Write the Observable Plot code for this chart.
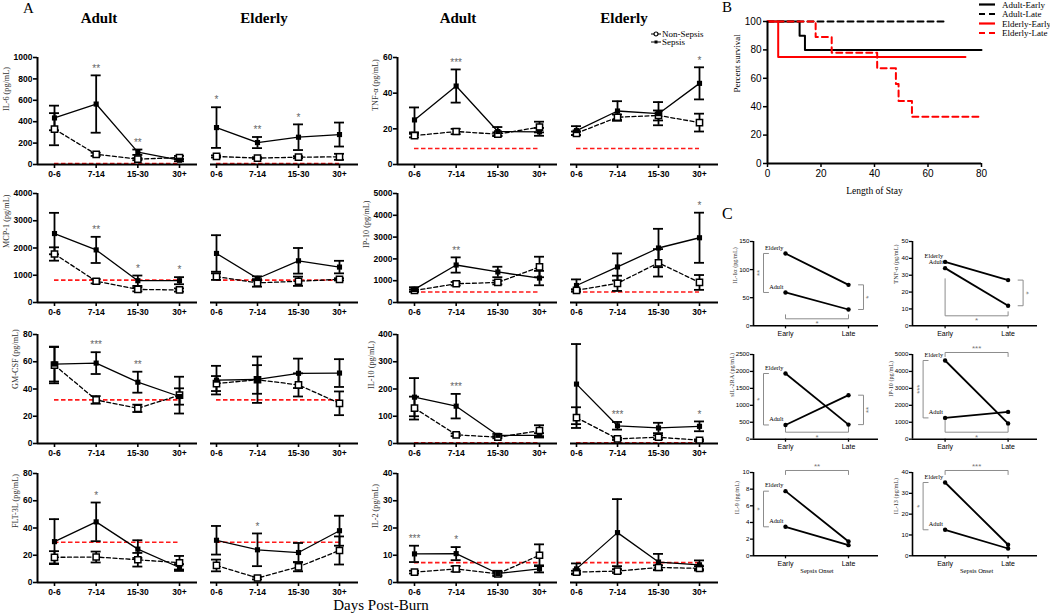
<!DOCTYPE html>
<html><head><meta charset="utf-8">
<script src="https://cdn.jsdelivr.net/npm/d3@7"></script>
<script src="https://cdn.jsdelivr.net/npm/@observablehq/plot@0.6"></script>
<style>
body{margin:0;background:#fff;}
#fig{position:relative;width:1050px;height:615px;overflow:hidden;background:#fff;}
.t{position:absolute;font-family:"Liberation Serif","Times New Roman",Times,serif;color:#000;white-space:nowrap;line-height:1;}
.c{transform:translate(-50%,-50%);}
</style></head><body><div id="fig"></div>
<script>
// ---------------- DATA ----------------
const groups = ["0-6", "7-14", "15-30", "30+"];

// Panel A: means and error half-lengths (pg/mL)
const il6AdultSep = [435, 565, 115, 40],    il6AdultSepErr = [115, 268, 25, 10];
const il6AdultNon = [330, 95, 50, 65],      il6AdultNonErr = [150, 15, 10, 15];
const il6AdultStars = ["", "**", "**", ""];
const il6ElderSep = [345, 205, 255, 280],   il6ElderSepErr = [190, 52, 120, 112];
const il6ElderNon = [75, 60, 68, 72],       il6ElderNonErr = [10, 8, 10, 28];
const il6ElderStars = ["*", "**", "*", ""];

const mcpAdultSep = [2530, 1930, 800, 800], mcpAdultSepErr = [760, 480, 190, 130];
const mcpAdultNon = [1780, 780, 480, 460],  mcpAdultNonErr = [245, 80, 70, 60];
const mcpAdultStars = ["", "**", "*", "*"];
const mcpElderSep = [1800, 880, 1530, 1300], mcpElderSepErr = [670, 80, 470, 230];
const mcpElderNon = [950, 720, 780, 850],   mcpElderNonErr = [120, 140, 170, 40];
const mcpElderStars = ["", "", "", ""];

const gmAdultSep = [58.3, 59, 45, 34.5],    gmAdultSepErr = [12.8, 8, 7.7, 6];
const gmAdultNon = [57.5, 32, 25.8, 35.5],  gmAdultNonErr = [13.3, 2.8, 2.7, 13.5];
const gmAdultStars = ["", "***", "**", ""];
const gmElderSep = [46.5, 47, 51.5, 51.7],  gmElderSepErr = [10.5, 10.5, 10.8, 10.2];
const gmElderNon = [44, 46.8, 43, 29.5],    gmElderNonErr = [5.5, 17, 8.5, 8.7];
const gmElderStars = ["", "", "", ""];

const fltAdultSep = [30, 44.5, 24.5, 11],   fltAdultSepErr = [16.5, 14.2, 6.5, 2.5];
const fltAdultNon = [18.5, 18.7, 16.7, 14.5], fltAdultNonErr = [4.5, 4, 5, 5];
const fltAdultStars = ["", "*", "", ""];
const fltElderSep = [31, 24, 22, 38],       fltElderSepErr = [10.5, 12, 7, 11];
const fltElderNon = [12.5, 3.3, 11.5, 23.5], fltElderNonErr = [4.3, 1, 3.3, 10.3];
const fltElderStars = ["", "*", "", ""];

const tnfAdultSep = [25, 44, 18.5, 18.3],   tnfAdultSepErr = [7, 9.3, 2.5, 2.2];
const tnfAdultNon = [16.2, 18.5, 17, 21],   tnfAdultNonErr = [1, 1.5, 1, 3];
const tnfAdultStars = ["", "***", "", ""];
const tnfElderSep = [19, 30, 28.5, 45.5],   tnfElderSepErr = [2.5, 5.5, 6.5, 9];
const tnfElderNon = [17.5, 26.5, 27.5, 23.5], tnfElderNonErr = [1, 1.5, 2.8, 5];
const tnfElderStars = ["", "", "", "*"];

const ip10AdultSep = [600, 1720, 1400, 1120], ip10AdultSepErr = [100, 350, 240, 330];
const ip10AdultNon = [550, 860, 920, 1630],  ip10AdultNonErr = [50, 80, 90, 470];
const ip10AdultStars = ["", "**", "", ""];
const ip10ElderSep = [780, 1630, 2500, 2970], ip10ElderSepErr = [280, 620, 880, 1150];
const ip10ElderNon = [560, 880, 1820, 920],  ip10ElderNonErr = [50, 350, 630, 340];
const ip10ElderStars = ["", "", "", "*"];

const il10AdultSep = [170, 137, 30, 30],    il10AdultSepErr = [70, 45, 5, 8];
const il10AdultNon = [130, 32, 23, 47],     il10AdultNonErr = [42, 5, 4, 20];
const il10AdultStars = ["", "***", "", ""];
const il10ElderSep = [218, 65, 57, 63],     il10ElderSepErr = [147, 14, 19, 18];
const il10ElderNon = [95, 17, 23, 12],      il10ElderNonErr = [38, 4, 7, 3];
const il10ElderStars = ["", "***", "", "*"];

const il2AdultSep = [10.5, 10.6, 3.3, 5],   il2AdultSepErr = [3, 2.4, 1, 1.3];
const il2AdultNon = [3.8, 5, 3.2, 10],      il2AdultNonErr = [0.5, 1, 0.5, 4];
const il2AdultStars = ["***", "*", "", ""];
const il2ElderSep = [5, 18.3, 7.5, 6.5],    il2ElderSepErr = [2, 12.3, 3, 1.6];
const il2ElderNon = [3.8, 4.2, 5.5, 5.2],   il2ElderNonErr = [0.5, 0.7, 0.8, 0.8];
const il2ElderStars = ["", "", "", ""];

// detection limits (red dashed)
const limitIL6 = 10, limitMCP = 820, limitGM = 32, limitFLT = 29.5;
const limitTNF = 9, limitIP10 = 480, limitIL10 = 3, limitIL2 = 7.3;

// Panel B: Kaplan-Meier steps
const adultEarlyDay = [0, 12, 14, 80],  adultEarlySurv = [100, 90, 80, 80];
const adultLateDay = [0, 67],           adultLateSurv = [100, 100];
const elderEarlyDay = [0, 4, 74],       elderEarlySurv = [100, 75, 75];
const elderLateDay = [0, 18, 24, 41, 48, 49, 54, 80];
const elderLateSurv = [100, 89, 78, 67, 56, 44, 33, 33];

// Panel C: [Early, Late]
const onset = ["Early", "Late"];
const il1aElder = [128.7, 72.9],  il1aAdult = [59.3, 29];
const tnfCElder = [37.9, 27.1],   tnfCAdult = [34.2, 11.9];
const sil2Elder = [1939, 430],    sil2Adult = [420, 1299];
const ip10CElder = [4646, 927],   ip10CAdult = [1257, 1612];
const il9Elder = [7.76, 1.72],    il9Adult = [3.48, 1.28];
const il13Elder = [35.2, 5.3],    il13Adult = [12.5, 3.5];

// ---------------- LAYOUT / DRAWING ----------------
const SANS = "'Liberation Sans', Arial, Helvetica, sans-serif";
const SERIF = "'Liberation Serif', 'Times New Roman', Times, serif";
const fig = document.getElementById("fig");

function addPlot(g, opts) {
  const svg = Plot.plot({
    width: g.width, height: g.height,
    marginLeft: g.ml, marginRight: g.mr, marginTop: g.mt, marginBottom: g.mb,
    style: {background: "transparent", overflow: "visible", color: "black", fontFamily: SANS},
    ...opts
  });
  svg.style.position = "absolute";
  svg.style.left = g.left + "px";
  svg.style.top = g.top + "px";
  svg.style.maxWidth = "none";
  fig.appendChild(svg);
}
function geom(fx0, fx1, fyT, fyB, ml, mr, mt, mb) {
  return {left: fx0 - ml, top: fyT - mt, width: fx1 - fx0 + ml + mr, height: fyB - fyT + mt + mb, ml, mr, mt, mb};
}
function addText(txt, x, y, css, center = true) {
  const d = document.createElement("div");
  d.className = "t" + (center ? " c" : "");
  d.textContent = txt;
  d.style.left = x + "px"; d.style.top = y + "px";
  d.style.cssText += css;
  fig.appendChild(d);
}

// ---- Panel A ----
const colsA = [
  {axis: 37, end: 197, t0: 54, sp: 41.67, adult: true},
  {axis: 210, end: 358, t0: 216, sp: 41, adult: false},
  {axis: 397, end: 557, t0: 414, sp: 41.67, adult: true},
  {axis: 570, end: 718, t0: 576, sp: 41, adult: false}
];
const rowsA = [[57, 164], [193, 302], [334, 443], [473, 582]];

function panelA(col, row, p) {
  const c = colsA[col], [yt, yb] = rowsA[row];
  const d0 = (c.axis - c.t0) / c.sp, d1 = (c.end - c.t0) / c.sp;
  const g = geom(c.axis, c.end, yt, yb, c.adult ? 42 : 8, 6, 14, 22);
  const mk = (m, e) => m.map((v, i) => ({i, m: v, lo: v - e[i], hi: v + e[i]}));
  const S = mk(p.sep, p.sepErr), N = mk(p.non, p.nonErr);
  const cap = 5 / c.sp;
  const stars = S.map((d, i) => ({i, hi: Math.max(d.hi, N[i].hi), s: p.stars[i]})).filter(d => d.s);
  const ticks = d3.range(0, p.ymax + p.step / 2, p.step);
  const digits = String(p.ymax).length;
  const bars = (R) => [
    Plot.ruleX(R, {x: "i", y1: "lo", y2: "hi", strokeWidth: 1.8}),
    Plot.ruleY(R, {y: "hi", x1: d => d.i - cap, x2: d => d.i + cap, strokeWidth: 1.8}),
    Plot.ruleY(R, {y: "lo", x1: d => d.i - cap, x2: d => d.i + cap, strokeWidth: 1.8})
  ];
  const marks = [
    Plot.ruleY([p.red], {x1: 0, x2: 3, stroke: "#ff1a1a", strokeWidth: 1.6, strokeDasharray: "4.5,2.5"}),
    ...bars(N), ...bars(S),
    Plot.line(N, {x: "i", y: "m", strokeWidth: 1.3, strokeDasharray: "4,2.5"}),
    Plot.line(S, {x: "i", y: "m", strokeWidth: 1.3}),
    Plot.dot(N, {x: "i", y: "m", symbol: "square", r: 3.5, fill: "white", stroke: "black", strokeWidth: 1.5}),
    Plot.dot(S, {x: "i", y: "m", symbol: "square", r: 2.9, fill: "black"}),
    Plot.text(stars, {x: "i", y: "hi", text: "s", dy: -7, fill: "#666", fontSize: 10, fontFamily: SANS}),
    Plot.ruleY([0], {x1: d0, x2: d1, strokeWidth: 2}),
    Plot.axisX([0, 1, 2, 3], {tickFormat: i => groups[i], tickSize: 4, tickPadding: 2, strokeWidth: 1.6,
      fontSize: 8.5, fontWeight: "bold", fontFamily: SANS, label: null})
  ];
  if (c.adult) {
    marks.push(
      Plot.ruleX([d0], {y1: 0, y2: p.ymax, strokeWidth: 2}),
      Plot.axisY(ticks, {tickSize: 4, tickPadding: 1, strokeWidth: 1.6, tickFormat: d => String(d),
        fontSize: 8.5, fontWeight: "bold", fontFamily: SANS, label: null}),
      Plot.text([p.label], {frameAnchor: "left", rotate: -90, dx: -(13 + 4.5 * digits),
        fontFamily: SERIF, fontSize: 8.2, fill: "#333"})
    );
  }
  addPlot(g, {
    x: {domain: [d0, d1], label: null},
    y: {domain: [0, p.ymax], label: null, ...(c.adult ? {} : {axis: null})},
    marks
  });
}

const A = (sep, sepErr, non, nonErr, stars) => ({sep, sepErr, non, nonErr, stars});
panelA(0, 0, {...A(il6AdultSep, il6AdultSepErr, il6AdultNon, il6AdultNonErr, il6AdultStars), ymax: 1000, step: 200, red: limitIL6, label: "IL-6 (pg/mL)"});
panelA(1, 0, {...A(il6ElderSep, il6ElderSepErr, il6ElderNon, il6ElderNonErr, il6ElderStars), ymax: 1000, step: 200, red: limitIL6});
panelA(0, 1, {...A(mcpAdultSep, mcpAdultSepErr, mcpAdultNon, mcpAdultNonErr, mcpAdultStars), ymax: 4000, step: 1000, red: limitMCP, label: "MCP-1 (pg/mL)"});
panelA(1, 1, {...A(mcpElderSep, mcpElderSepErr, mcpElderNon, mcpElderNonErr, mcpElderStars), ymax: 4000, step: 1000, red: limitMCP});
panelA(0, 2, {...A(gmAdultSep, gmAdultSepErr, gmAdultNon, gmAdultNonErr, gmAdultStars), ymax: 80, step: 20, red: limitGM, label: "GM-CSF (pg/mL)"});
panelA(1, 2, {...A(gmElderSep, gmElderSepErr, gmElderNon, gmElderNonErr, gmElderStars), ymax: 80, step: 20, red: limitGM});
panelA(0, 3, {...A(fltAdultSep, fltAdultSepErr, fltAdultNon, fltAdultNonErr, fltAdultStars), ymax: 80, step: 20, red: limitFLT, label: "FLT-3L (pg/mL)"});
panelA(1, 3, {...A(fltElderSep, fltElderSepErr, fltElderNon, fltElderNonErr, fltElderStars), ymax: 80, step: 20, red: limitFLT});
panelA(2, 0, {...A(tnfAdultSep, tnfAdultSepErr, tnfAdultNon, tnfAdultNonErr, tnfAdultStars), ymax: 60, step: 20, red: limitTNF, label: "TNF-α (pg/mL)"});
panelA(3, 0, {...A(tnfElderSep, tnfElderSepErr, tnfElderNon, tnfElderNonErr, tnfElderStars), ymax: 60, step: 20, red: limitTNF});
panelA(2, 1, {...A(ip10AdultSep, ip10AdultSepErr, ip10AdultNon, ip10AdultNonErr, ip10AdultStars), ymax: 5000, step: 1000, red: limitIP10, label: "IP-10 (pg/mL)"});
panelA(3, 1, {...A(ip10ElderSep, ip10ElderSepErr, ip10ElderNon, ip10ElderNonErr, ip10ElderStars), ymax: 5000, step: 1000, red: limitIP10});
panelA(2, 2, {...A(il10AdultSep, il10AdultSepErr, il10AdultNon, il10AdultNonErr, il10AdultStars), ymax: 400, step: 100, red: limitIL10, label: "IL-10 (pg/mL)"});
panelA(3, 2, {...A(il10ElderSep, il10ElderSepErr, il10ElderNon, il10ElderNonErr, il10ElderStars), ymax: 400, step: 100, red: limitIL10});
panelA(2, 3, {...A(il2AdultSep, il2AdultSepErr, il2AdultNon, il2AdultNonErr, il2AdultStars), ymax: 40, step: 10, red: limitIL2, label: "IL-2 (pg/mL)"});
panelA(3, 3, {...A(il2ElderSep, il2ElderSepErr, il2ElderNon, il2ElderNonErr, il2ElderStars), ymax: 40, step: 10, red: limitIL2});

// ---- Panel B ----
{
  const g = geom(767, 981, 21, 163, 40, 10, 8, 40);
  const toRows = (d, s) => d.map((v, i) => ({d: v, s: s[i]}));
  const ln = (d, s, stroke, dash) => Plot.line(toRows(d, s), {x: "d", y: "s", curve: "step-after", stroke, strokeWidth: 2, strokeDasharray: dash});
  addPlot(g, {
    x: {domain: [0, 80], label: null}, y: {domain: [0, 100], label: null},
    marks: [
      ln(adultLateDay, adultLateSurv, "black", "6,4"),
      ln(adultEarlyDay, adultEarlySurv, "black", null),
      ln(elderEarlyDay, elderEarlySurv, "#ff0000", null),
      ln(elderLateDay, elderLateSurv, "#ff0000", "6,4"),
      Plot.ruleY([0], {strokeWidth: 2}),
      Plot.ruleX([0], {strokeWidth: 2}),
      Plot.axisX(d3.range(0, 81, 20), {tickSize: 4, tickPadding: 2, strokeWidth: 1.5, fontSize: 10, fontFamily: SANS, label: null}),
      Plot.axisY(d3.range(0, 101, 20), {tickSize: 4, tickPadding: 2, strokeWidth: 1.5, fontSize: 10, fontFamily: SANS, label: null}),
      Plot.text(["Percent survival"], {frameAnchor: "left", rotate: -90, dx: -30, fontFamily: SERIF, fontSize: 9}),
      Plot.text(["Length of Stay"], {frameAnchor: "bottom", dy: 30, fontFamily: SERIF, fontSize: 9.5})
    ]
  });
}

// ---- Panel C ----
const colsC = [{axis: 753, end: 878, e: 785, l: 848}, {axis: 911.7, end: 1036.7, e: 944.3, l: 1007.3}];
const rowsC = [[240.7, 325], [354.3, 439], [471.7, 555]];

function panelC(col, row, p) {
  const c = colsC[col], [yt, yb] = rowsC[row];
  const sp = c.l - c.e;
  const d0 = (c.axis - c.e) / sp, d1 = (c.end - c.e) / sp;
  const g = geom(c.axis, c.end, yt, yb, 30, 12, 12, row === 2 ? 24 : 14);
  const ux = 1 / sp, uy = p.ymax / (yb - yt);
  const line = (v) => v.map((y, i) => ({x: i, y}));
  const st = {x: "x", y: "y", stroke: "#8c8c8c", strokeWidth: 1};
  const tx = {fill: "#777", fontSize: 8, fontFamily: SANS};
  const digits = String(p.ymax).length;
  const marks = [];
  if (p.left) {
    const xb = -22 * ux, t = 5 * ux;
    marks.push(Plot.line([{x: xb + t, y: p.E[0]}, {x: xb, y: p.E[0]}, {x: xb, y: p.A[0]}, {x: xb + t, y: p.A[0]}], st),
      Plot.text([p.left], {x: xb - 4 * ux, y: (p.E[0] + p.A[0]) / 2, rotate: -90, ...tx}));
  }
  if (p.right) {
    const xb = 1 + 15 * ux, t = 5 * ux;
    marks.push(Plot.line([{x: xb - t, y: p.E[1]}, {x: xb, y: p.E[1]}, {x: xb, y: p.A[1]}, {x: xb - t, y: p.A[1]}], st),
      Plot.text([p.right], {x: xb + 5 * ux, y: (p.E[1] + p.A[1]) / 2, rotate: -90, ...tx}));
  }
  if (p.bottom) {
    const yb2 = (p.bottomGap || 7) * uy, [t0, t1] = p.bottomTicks;
    marks.push(Plot.line([{x: 0, y: yb2 + t0 * uy}, {x: 0, y: yb2}, {x: 1, y: yb2}, {x: 1, y: yb2 + t1 * uy}], st),
      Plot.text([p.bottom], {x: 0.5, y: yb2, dy: 5, ...tx}));
  }
  if (p.top) {
    const ytp = p.ymax + 2 * uy;
    marks.push(Plot.line([{x: 0, y: ytp - 4 * uy}, {x: 0, y: ytp}, {x: 1, y: ytp}, {x: 1, y: ytp - 4 * uy}], st),
      Plot.text([p.top], {x: 0.5, y: ytp, dy: -4, ...tx}));
  }
  marks.push(
    Plot.line(line(p.E), {x: "x", y: "y", strokeWidth: 1.8}),
    Plot.line(line(p.A), {x: "x", y: "y", strokeWidth: 1.8}),
    Plot.dot([...line(p.E), ...line(p.A)], {x: "x", y: "y", r: 2.2, fill: "black"}),
    Plot.text(["Elderly"], {x: 0, y: p.E[0], textAnchor: "end", dx: -2, dy: -6, fontFamily: SERIF, fontSize: 6.3}),
    Plot.text(["Adult"], {x: 0, y: p.A[0], textAnchor: "end", dx: -2, dy: -6, fontFamily: SERIF, fontSize: 6.3}),
    Plot.ruleY([0], {x1: d0, x2: d1, strokeWidth: 1.6}),
    Plot.ruleX([d0], {y1: 0, y2: p.ymax, strokeWidth: 1.6}),
    Plot.axisX([0, 1], {tickFormat: i => onset[i], tickSize: 3, tickPadding: 2, strokeWidth: 1.3, fontSize: 7, fontFamily: SANS, label: null}),
    Plot.axisY(d3.range(0, p.ymax + p.step / 2, p.step), {tickSize: 3, tickPadding: 1, strokeWidth: 1.3, tickFormat: d => String(d), fontSize: 6.2, fontFamily: SANS, label: null}),
    Plot.text([p.label], {frameAnchor: "left", rotate: -90, dx: -(10.5 + 2.8 * digits), fontFamily: SERIF, fontSize: 6.2, fill: "#333"})
  );
  if (row === 2) marks.push(Plot.text(["Sepsis Onset"], {x: 0.5, frameAnchor: "bottom", dy: 17, fontFamily: SERIF, fontSize: 6.5}));
  addPlot(g, {x: {domain: [d0, d1], label: null}, y: {domain: [0, p.ymax], label: null}, marks});
}

panelC(0, 0, {E: il1aElder, A: il1aAdult, ymax: 150, step: 50, label: "IL-1α (pg/mL)", left: "**", right: "*", bottom: "*", bottomTicks: [4, 4]});
panelC(1, 0, {E: tnfCElder, A: tnfCAdult, ymax: 50, step: 10, label: "TNF-α (pg/mL)", right: "*", bottom: "*", bottomGap: 10, bottomTicks: [37, 4]});
panelC(0, 1, {E: sil2Elder, A: sil2Adult, ymax: 2500, step: 500, label: "sIL-2RA (pg/mL)", left: "*", right: "**", bottom: "*", bottomTicks: [7, 7]});
panelC(1, 1, {E: ip10CElder, A: ip10CAdult, ymax: 5000, step: 1000, label: "IP-10 (pg/mL)", left: "***", top: "***", bottom: "*", bottomTicks: [12, 6]});
panelC(0, 2, {E: il9Elder, A: il9Adult, ymax: 10, step: 2, label: "IL-9 (pg/mL)", left: "*", top: "**"});
panelC(1, 2, {E: il13Elder, A: il13Adult, ymax: 40, step: 10, label: "IL-13 (pg/mL)", left: "*", top: "***"});

// ---- Text and legends ----
addText("A", 23, 1, "font-size:15px;", false);
addText("B", 722, 0, "font-size:15px;", false);
addText("C", 722, 206, "font-size:16px;", false);
addText("Adult", 99, 18, "font-size:15px;font-weight:bold;");
addText("Elderly", 264, 18, "font-size:15px;font-weight:bold;");
addText("Adult", 458, 18, "font-size:15px;font-weight:bold;");
addText("Elderly", 624, 18, "font-size:15px;font-weight:bold;");
addText("Days Post-Burn", 381, 605, "font-size:15px;");

addText("Non-Sepsis", 662, 34, "font-size:9px;transform:translateY(-50%);", false);
addText("Sepsis", 662, 42, "font-size:9px;transform:translateY(-50%);", false);
const legA = `<svg style="position:absolute;left:650px;top:29px" width="12" height="18">
<line x1="1" x2="11" y1="5" y2="5" stroke="black" stroke-width="1"/>
<circle cx="6" cy="5" r="2" fill="white" stroke="black" stroke-width="1.2"/>
<line x1="1" x2="11" y1="13" y2="13" stroke="black" stroke-width="1"/>
<rect x="4.5" y="11.5" width="3" height="3" fill="black"/></svg>`;
fig.insertAdjacentHTML("beforeend", legA);

const legNames = ["Adult-Early", "Adult-Late", "Elderly-Early", "Elderly-Late"];
const legY = [4.5, 14, 23.5, 33];
let legB = `<svg style="position:absolute;left:976px;top:0px" width="22" height="40">`;
[["black", ""], ["black", "6,4"], ["#ff0000", ""], ["#ff0000", "6,4"]].forEach(([c, d], i) => {
  legB += `<line x1="3" x2="19" y1="${legY[i]}" y2="${legY[i]}" stroke="${c}" stroke-width="2.2" ${d ? `stroke-dasharray="${d}"` : ""}/>`;
});
legB += `</svg>`;
fig.insertAdjacentHTML("beforeend", legB);
legNames.forEach((n, i) => addText(n, 1002, legY[i], "font-size:9px;transform:translateY(-50%);", false));
</script></body></html>
